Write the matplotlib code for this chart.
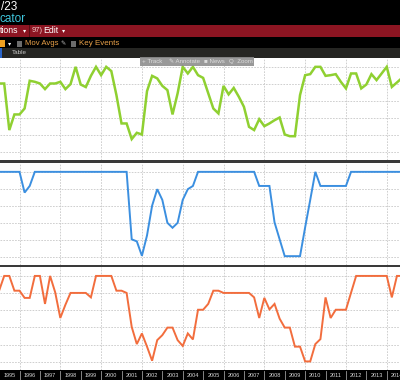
import numpy as np
import pandas as pd
import matplotlib
matplotlib.use("Agg")
import matplotlib.pyplot as plt
from matplotlib.patches import Rectangle

# quarterly observations, 1995Q1 .. 2014Q4
quarters = pd.period_range("1995Q1", "2014Q4", freq="Q")

green_vals = [4.02, 4.02, 1.28, 2.20, 2.20, 2.55, 4.18, 4.12, 4.02, 3.69,
              4.02, 4.02, 4.12, 3.69, 3.98, 5.00, 3.96, 3.81, 4.47, 5.00,
              4.51, 5.00, 4.75, 3.34, 1.67, 1.67, 0.75, 1.12, 1.02, 3.57,
              4.47, 4.32, 3.88, 3.63, 2.20, 3.44, 5.00, 4.61, 5.00, 4.51,
              4.35, 3.45, 2.55, 2.26, 3.88, 3.38, 3.76, 3.24, 2.65, 1.47,
              1.28, 1.92, 1.51, 1.67, 1.86, 2.02, 1.02, 0.92, 0.92, 3.34,
              4.51, 4.57, 5.00, 5.00, 4.47, 4.51, 4.57, 4.12, 3.73, 4.61,
              4.61, 3.73, 3.96, 4.57, 4.22, 4.61, 5.00, 3.82, 4.08, 4.35]

blue_vals = [5, 5, 5, 5, 5, 3.78, 4.17, 5, 5, 5,
             5, 5, 5, 5, 5, 5, 5, 5, 5, 5,
             5, 5, 5, 5, 5, 5, 1.03, 0.91, 0.06, 1.26,
             3.01, 3.98, 3.35, 2.00, 1.71, 2.00, 3.35, 3.98, 4.17, 5,
             5, 5, 5, 5, 5, 5, 5, 5, 5, 5,
             5, 4.17, 4.17, 4.17, 2.03, 1.03, 0.04, 0.04, 0.04, 0.04,
             1.73, 3.35, 5, 4.17, 4.17, 4.17, 4.17, 4.17, 4.17, 5,
             5, 5, 5, 5, 5, 5, 5, 5, 5, 5]

orange_vals = [4.14, 5.00, 5.00, 4.14, 4.14, 3.72, 3.72, 5.00, 5.00, 3.37,
               5.00, 4.04, 2.55, 3.32, 4.01, 4.01, 4.01, 4.01, 3.75, 5.00,
               5.00, 5.00, 5.00, 4.14, 4.14, 4.01, 2.03, 1.03, 1.65, 0.88,
               0.06, 1.26, 1.55, 1.99, 1.99, 1.26, 0.92, 1.65, 1.30, 3.03,
               3.03, 3.37, 4.14, 4.14, 4.01, 4.01, 4.01, 4.01, 4.01, 4.01,
               3.75, 2.55, 3.72, 3.05, 3.37, 2.51, 1.99, 1.99, 0.88, 0.88,
               0.02, 0.02, 1.03, 1.32, 3.75, 2.55, 3.03, 3.03, 3.03, 4.02,
               5.00, 5.00, 5.00, 5.00, 5.00, 5.00, 5.00, 3.75, 5.00, 5.00]

years = list(range(1995, 2015))

x = np.array([q.year + (q.quarter - 1) / 4 for q in quarters])

W, H = 400, 380
fig = plt.figure(figsize=(4, 3.8), dpi=100, facecolor="black")


def fx(px):
    return px / W


def fy(py):
    return 1 - py / H


def ax_rect(top, bottom):
    return [0, fy(bottom), 1, (bottom - top) / H]


XLIM = (1995.044, 2014.65)
YLIM = (-0.48, 5.52)

panels = [
    (58, 160, green_vals, "#8fd031", 1.8),
    (163, 265, blue_vals, "#3b8fe0", 1.4),
    (267, 370, orange_vals, "#f26d3d", 1.4),
]

for top, bottom, vals, color, lw in panels:
    ax = fig.add_axes(ax_rect(top, bottom))
    ax.set_facecolor("white")
    ax.set_xlim(*XLIM)
    ax.set_ylim(*YLIM)
    for yy in range(0, 6):
        ax.axhline(yy, color="#c8c8c8", lw=0.6, ls=(0, (2, 1.5)), zorder=1)
    for yr in range(1996, 2015, 2):
        ax.axvline(yr, color="#c8c8c8", lw=0.6, ls=(0, (2, 1.5)), zorder=1)
    ax.plot(x, vals, color=color, lw=lw, zorder=3, solid_joinstyle="miter")
    ax.set_xticks([])
    ax.set_yticks([])
    for s in ax.spines.values():
        s.set_visible(False)

# separators between panels
for top, h in [(160, 3), (265, 2)]:
    fig.add_artist(Rectangle((0, fy(top + h)), 1, h / H, transform=fig.transFigure,
                             facecolor="#3a3a3a", edgecolor="none"))

# x axis label bar
axb = fig.add_axes(ax_rect(370, 380))
axb.set_facecolor("black")
axb.set_xlim(*XLIM)
axb.set_ylim(0, 1)
axb.set_xticks([])
axb.set_yticks([])
for s in axb.spines.values():
    s.set_visible(False)
for yr in years:
    axb.text(yr + 0.5, 0.45, str(yr), color="#d8d8d8", fontsize=4,
             family="Liberation Sans", ha="center", va="center")
    if yr > 1995:
        axb.plot([yr, yr], [0.05, 0.95], color="#9a9a9a", lw=0.6)

FAM = ["Liberation Sans", "DejaVu Sans"]

# header
fig.text(fx(1), fy(7.5), "/23", color="white", fontsize=8.5,
         family=FAM, va="center", ha="left")
fig.text(fx(0), fy(19.5), "cator", color="#3fc6dc", fontsize=8.5,
         family=FAM, va="center", ha="left")

fig.add_artist(Rectangle((0, fy(36.5)), 1, 11.5 / H, transform=fig.transFigure,
                         facecolor="#8c1522", edgecolor="none"))
fig.add_artist(Rectangle((fx(29), fy(36.5)), 1 / W, 11.5 / H, transform=fig.transFigure,
                         facecolor="#5a0c14", edgecolor="none"))
fig.text(fx(0), fy(30.5), "tions", color="white", fontsize=6.3,
         family=FAM, va="center", ha="left")
fig.text(fx(23), fy(30.5), "▾", color="white", fontsize=4.5, va="center", ha="left")
fig.text(fx(32), fy(30.5), "97)", color="#f0c8c8", fontsize=5.5,
         family=FAM, va="center", ha="left")
fig.text(fx(43), fy(30.5), "Edit", color="white", fontsize=6.3,
         family=FAM, va="center", ha="left")
fig.text(fx(62), fy(30.5), "▾", color="white", fontsize=4.5, va="center", ha="left")

# toolbar row
fig.add_artist(Rectangle((0, fy(47)), 4.5 / W, 7 / H, transform=fig.transFigure,
                         facecolor="#f0a020", edgecolor="none"))
fig.text(fx(7.5), fy(43.5), "▾", color="white", fontsize=4.5, va="center", ha="left")
for bx in (17, 71):
    fig.add_artist(Rectangle((fx(bx), fy(46.5)), 4.5 / W, 5.5 / H, transform=fig.transFigure,
                             facecolor="#6c6c6c", edgecolor="none"))
fig.text(fx(25), fy(43.5), "Mov Avgs", color="#e8a048", fontsize=5.6,
         family=FAM, va="center", ha="left")
fig.text(fx(60.5), fy(43.5), "✎", color="#bbbbbb", fontsize=4.5,
         family="DejaVu Sans", va="center", ha="left")
fig.text(fx(79), fy(43.5), "Key Events", color="#e8a048", fontsize=5.8,
         family=FAM, va="center", ha="left")

fig.add_artist(Rectangle((0, fy(57.5)), 1, 9.5 / H, transform=fig.transFigure,
                         facecolor="#262623", edgecolor="none"))
fig.add_artist(Rectangle((0, fy(57.5)), 1.5 / W, 9.5 / H, transform=fig.transFigure,
                         facecolor="#2a64c8", edgecolor="none"))
fig.text(fx(12), fy(52.5), "Table", color="#c8c8c8", fontsize=4.5,
         family=FAM, va="center", ha="left")

# floating chart toolbar
fig.add_artist(Rectangle((fx(140), fy(65.5)), 114 / W, 8.5 / H, transform=fig.transFigure,
                         facecolor="#8e8e8e", edgecolor="none", alpha=0.9, zorder=5))
for px_, label in [(142, "+ Track"), (169, "✎ Annotate"), (204, "■ News"), (229, "Q  Zoom")]:
    fig.text(fx(px_), fy(61.3), label, color="#dcdcdc", fontsize=4.4,
             family=FAM, va="center", ha="left", zorder=6)

fig.savefig("out.png", dpi=100, facecolor="black")
